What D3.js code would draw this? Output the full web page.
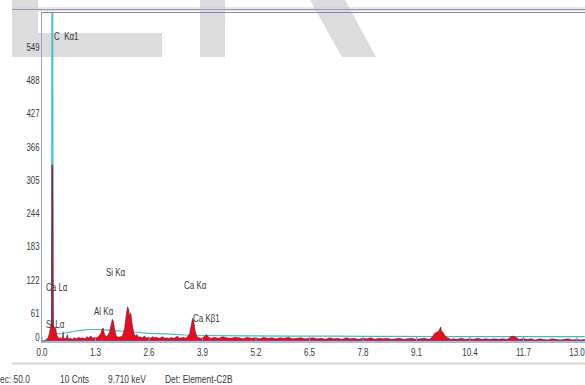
<!DOCTYPE html>
<html><head><meta charset="utf-8">
<script src="https://cdn.jsdelivr.net/npm/d3@7"></script>
<style>
html,body{margin:0;padding:0;background:#fff;}
svg{display:block;}
text{font-family:"Liberation Sans",Arial,sans-serif;fill:#3a3a3a;}
</style></head>
<body><svg id="c" width="585" height="385"></svg>
<script>
// ---- data ----
const xTickLabels = ["0.0","1.3","2.6","3.9","5.2","6.5","7.8","9.1","10.4","11.7","13.0"];
const yTickValues = [0,61,122,183,244,305,366,427,488,549];
// measured spectrum: [keV, counts]
const spectrum = [
[0.00,0],[0.08,0],[0.12,2],[0.16,6],[0.19,14],[0.21,22],[0.23,26],[0.24,40],[0.25,323],[0.275,323],[0.285,60],
[0.29,28],[0.31,24],[0.33,26],[0.35,22],[0.37,12],[0.40,7],[0.43,5],[0.46,6],[0.49,4],[0.51,8],[0.525,17],[0.54,6],
[0.57,4],[0.60,5],[0.63,12],[0.65,4],[0.70,5],[0.75,3],[0.80,6],[0.85,4],[0.90,7],[0.95,5],[1.00,6],[1.05,4],
[1.10,8],[1.15,6],[1.20,9],[1.25,5],[1.30,7],[1.35,6],[1.40,10],[1.44,14],[1.47,22],[1.50,24],[1.53,13],[1.57,8],
[1.61,10],[1.65,16],[1.69,30],[1.72,40],[1.75,36],[1.78,20],[1.82,9],[1.87,7],[1.92,8],[1.97,10],[2.02,24],
[2.06,50],[2.09,63],[2.12,58],[2.14,46],[2.17,52],[2.20,34],[2.24,16],[2.28,9],[2.32,12],[2.36,7],[2.40,8],
[2.45,6],[2.50,9],[2.55,6],[2.60,7],[2.65,5],[2.70,8],[2.75,6],[2.80,7],[2.85,5],[2.90,6],[2.95,8],[3.00,5],
[3.05,6],[3.10,4],[3.15,7],[3.20,5],[3.25,6],[3.30,9],[3.35,5],[3.40,6],[3.45,7],[3.50,5],[3.55,8],[3.60,14],
[3.64,30],[3.67,42],[3.70,38],[3.73,20],[3.77,9],[3.82,6],[3.88,5],[3.95,8],[4.01,12],[4.06,7],[4.12,5],
[4.2,7],[4.3,5],[4.4,8],[4.5,6],[4.6,5],[4.7,7],[4.8,6],[4.9,4],[5.0,7],[5.1,5],[5.2,6],[5.3,4],[5.4,7],[5.5,5],
[5.6,6],[5.7,4],[5.8,6],[5.9,5],[6.0,7],[6.1,4],[6.2,5],[6.3,6],[6.4,4],[6.5,5],[6.6,6],[6.7,4],[6.8,5],[6.9,3],
[7.0,6],[7.1,4],[7.2,5],[7.3,3],[7.4,6],[7.5,4],[7.6,5],[7.7,3],[7.8,5],[7.9,4],[8.0,6],[8.1,3],[8.2,5],[8.3,4],
[8.4,5],[8.5,3],[8.6,4],[8.7,5],[8.8,3],[8.9,4],[9.0,5],[9.1,3],[9.2,4],[9.3,5],[9.4,3],
[9.45,4],[9.50,8],[9.55,14],[9.60,16],[9.65,18],[9.70,26],[9.72,18],[9.76,16],[9.80,10],[9.86,6],[9.95,3],
[10.0,4],[10.1,3],[10.2,5],[10.3,3],[10.4,4],[10.5,3],[10.6,5],[10.7,3],[10.8,4],[10.9,3],[11.0,4],[11.1,3],
[11.2,4],[11.3,3],[11.35,4],[11.40,8],[11.45,9],[11.50,8],[11.55,6],[11.60,3],[11.7,4],[11.8,3],[11.9,4],
[12.0,2],[12.1,4],[12.2,3],[12.3,2],[12.4,4],[12.5,3],[12.6,2],[12.7,3],[12.8,4],[12.9,2],[13.0,3],[13.1,2],[13.2,3]
];
// fitted background / reconstruction curve: [keV, counts]
const fitCurve = [
[0.05,0],[0.12,3],[0.20,8],[0.245,14],[0.255,700],[0.27,700],[0.285,16],[0.33,14],[0.45,13],[0.6,15],[0.8,18],
[1.0,20],[1.2,21],[1.4,21],[1.6,20],[1.8,19],[2.0,18],[2.3,16],[2.6,14],[3.0,13],[3.5,11],[4.0,10],[5.0,9.5],
[6.0,9],[7.0,9],[8.0,8.5],[10.0,8],[13.2,8]
];
// peak labels: text, anchor keV, anchor counts
const peakLabels = [
["C  K\u03b11",0.304,553],["Ca L\u03b1",0.11,92],["Si L\u03b1",0.11,24],["Al K\u03b1",1.276,48],
["Si K\u03b1",1.567,119],["Ca K\u03b1",3.463,96],["Ca K\u03b21",3.682,35]
];
const statusItems = [["ec: 50.0",0],["10 Cnts",60],["9.710 keV",108],["Det: Element-C2B",165]];

// ---- drawing ----
const svg = d3.select("#c");
const x = d3.scaleLinear().domain([0,13]).range([41.5,576.5]);
const y = d3.scaleLinear().domain([0,549]).range([341,42]);

// narrow-text helper: place text at (px,py) squeezed horizontally
function narrow(sel, px, py, sx){
  sel.attr("x",0).attr("y",0).attr("transform",(d,i)=>`translate(${px(d,i)},${py(d,i)}) scale(${sx},1)`);
}

// watermark
const wm = svg.append("g").attr("fill","#dcdcdc");
wm.append("rect").attr("x",12).attr("y",0).attr("width",26).attr("height",57);
wm.append("rect").attr("x",12).attr("y",33).attr("width",150).attr("height",24);
wm.append("rect").attr("x",200).attr("y",0).attr("width",25).attr("height",57);
wm.append("polygon").attr("points","310,0 345,0 376,57 342,57");

// header lines
svg.append("line").attr("x1",12).attr("x2",585).attr("y1",8).attr("y2",8).attr("stroke","#cfcfd8").attr("stroke-width",1);
svg.append("line").attr("x1",12).attr("x2",585).attr("y1",9.5).attr("y2",9.5).attr("stroke","#9a9ab2").attr("stroke-width",1);
svg.append("line").attr("x1",12).attr("x2",585).attr("y1",10.5).attr("y2",10.5).attr("stroke","#dadae4").attr("stroke-width",1);

// plot clip
svg.append("clipPath").attr("id","pc").append("rect").attr("x",41).attr("y",12).attr("width",544).attr("height",330);
const plot = svg.append("g").attr("clip-path","url(#pc)");

const area = d3.area().x(d=>x(d[0])).y0(y(0)).y1(d=>y(d[1]));
const line = d3.line().x(d=>x(d[0])).y(d=>y(d[1]));
plot.append("path").datum(fitCurve).attr("d",line).attr("fill","none").attr("stroke","#3fbfc4").attr("stroke-width",1.1);
plot.append("path").datum(spectrum).attr("d",area).attr("fill","#e3101c");
plot.append("path").datum(spectrum).attr("d",line).attr("fill","none").attr("stroke","#2c2466").attr("stroke-width",0.7).attr("stroke-opacity",0.65);

// frame
svg.append("line").attr("x1",41).attr("x2",585).attr("y1",12.5).attr("y2",12.5).attr("stroke","#8484b4").attr("stroke-width",1);
svg.append("line").attr("x1",41.5).attr("x2",41.5).attr("y1",12).attr("y2",341).attr("stroke","#a0a0d0").attr("stroke-width",1);
svg.append("line").attr("x1",41).attr("x2",585).attr("y1",341).attr("y2",341).attr("stroke","#7a5a9c").attr("stroke-width",1.2);
svg.append("line").attr("x1",41).attr("x2",585).attr("y1",342.5).attr("y2",342.5).attr("stroke","#a8b4e0").attr("stroke-width",1);

// x axis
const xa = svg.append("g").attr("transform","translate(0,341)")
  .call(d3.axisBottom(x).tickValues(xTickLabels.map(Number)).tickSize(-4).tickPadding(0).tickFormat((d,i)=>xTickLabels[i]));
xa.select(".domain").remove();
xa.selectAll(".tick line").attr("stroke","#8c8cc0");
xa.selectAll(".tick text").attr("dy",0).attr("font-size",11.5).attr("font-family",null).attr("fill","#3a3a3a")
  .attr("x",0).attr("y",0).attr("transform","translate(0,15) scale(0.7,1)");

// y labels
svg.append("g").selectAll("text").data(yTickValues).join("text")
  .attr("text-anchor","end").attr("font-size",11.5).text(d=>d)
  .call(narrow, ()=>39.5, d=> d===0 ? 341 : y(d)+9, 0.68);

// peak labels
svg.append("g").selectAll("text").data(peakLabels).join("text")
  .attr("font-size",10.5).attr("xml:space","preserve").text(d=>d[0])
  .call(narrow, d=>x(d[1]), d=>y(d[2]), 0.76);

// status bar
svg.append("line").attr("x1",12).attr("x2",585).attr("y1",363.5).attr("y2",363.5).attr("stroke","#d6d6d6").attr("stroke-width",2);
svg.append("g").selectAll("text").data(statusItems).join("text")
  .attr("font-size",10.5).attr("xml:space","preserve").text(d=>d[0])
  .call(narrow, d=>d[1], ()=>383, 0.8);
</script></body></html>
